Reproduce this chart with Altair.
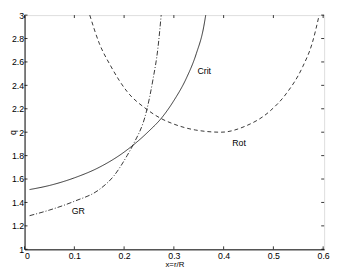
import altair as alt
import pandas as pd

# Curves
crit_x = [0.01, 0.05, 0.10, 0.15, 0.20, 0.25, 0.275, 0.30, 0.325, 0.345, 0.36, 0.364]
crit_q = [1.51, 1.545, 1.61, 1.70, 1.83, 2.01, 2.12, 2.27, 2.46, 2.67, 2.90, 3.0]

gr_x = [0.01, 0.05, 0.10, 0.15, 0.18, 0.206, 0.219, 0.245, 0.258, 0.268, 0.2745]
gr_q = [1.287, 1.335, 1.41, 1.51, 1.63, 1.80, 1.90, 2.18, 2.45, 2.72, 3.0]

rot_x = [0.131, 0.15, 0.173, 0.206, 0.245, 0.275, 0.297, 0.343, 0.395, 0.441, 0.493, 0.526, 0.559, 0.578, 0.592]
rot_q = [3.0, 2.76, 2.566, 2.347, 2.197, 2.115, 2.074, 2.019, 2.0, 2.047, 2.18, 2.33, 2.56, 2.76, 3.0]

label_text = ["Crit", "Rot", "GR"]
label_x = [0.361, 0.431, 0.108]
label_q = [2.52, 1.91, 1.33]

x_ticks = [0, 0.1, 0.2, 0.3, 0.4, 0.5, 0.6]
y_ticks = [1, 1.2, 1.4, 1.6, 1.8, 2, 2.2, 2.4, 2.6, 2.8, 3]

W, H = 307, 240
FONT = "Liberation Sans"

lines = pd.concat([
    pd.DataFrame({"x": crit_x, "q": crit_q, "s": "Crit"}),
    pd.DataFrame({"x": gr_x, "q": gr_q, "s": "GR"}),
    pd.DataFrame({"x": rot_x, "q": rot_q, "s": "Rot"}),
])
labels = pd.DataFrame({"t": label_text, "x": label_x, "q": label_q})
xt = pd.DataFrame({"v": x_ticks})
yt = pd.DataFrame({"v": y_ticks})

xscale = alt.Scale(domain=[0, 0.602], nice=False, zero=False)
yscale = alt.Scale(domain=[1, 3], nice=False, zero=False)

xaxis = alt.Axis(values=x_ticks, format="~g", title="x=r/R", grid=False, ticks=False,
                 labelFont=FONT, labelFontSize=9, labelColor="black", labelPadding=2,
                 titleFont=FONT, titleFontSize=8, titleFontWeight="normal", titleColor="black",
                 titleBaseline="alphabetic", titleY=18,
                 domainColor="#555555", domainWidth=1.5)
yaxis = alt.Axis(values=y_ticks, format="~g", title="q", grid=False, ticks=False,
                 labelFont=FONT, labelFontSize=9, labelColor="black", labelPadding=1,
                 titleFont=FONT, titleFontSize=9, titleFontWeight="normal", titleColor="black",
                 titleX=-7, titleY=H / 2,
                 domainColor="#555555", domainWidth=1.5)

line_layer = alt.Chart(lines).mark_line(color="black", strokeWidth=0.8, clip=True, interpolate="monotone").encode(
    x=alt.X("x:Q", scale=xscale, axis=xaxis),
    y=alt.Y("q:Q", scale=yscale, axis=yaxis),
    detail="s:N",
    strokeDash=alt.StrokeDash("s:N", scale=alt.Scale(domain=["Crit", "GR", "Rot"],
                                                     range=[[1, 0], [5, 2, 1, 2], [4, 3]]),
                              legend=None),
)

text_layer = alt.Chart(labels).mark_text(font=FONT, fontSize=9, color="black").encode(
    x=alt.X("x:Q", scale=xscale, axis=xaxis),
    y=alt.Y("q:Q", scale=yscale, axis=yaxis),
    text="t:N",
)

tick_style = dict(color="black", strokeWidth=0.8)
xb = alt.Chart(xt).mark_rule(**tick_style).encode(
    x=alt.X("v:Q", scale=xscale, axis=xaxis), y=alt.value(H), y2=alt.value(H - 3))
xtp = alt.Chart(xt).mark_rule(**tick_style).encode(
    x=alt.X("v:Q", scale=xscale, axis=xaxis), y=alt.value(0), y2=alt.value(3))
yl = alt.Chart(yt).mark_rule(**tick_style).encode(
    y=alt.Y("v:Q", scale=yscale, axis=yaxis), x=alt.value(0), x2=alt.value(3))
yr = alt.Chart(yt).mark_rule(**tick_style).encode(
    y=alt.Y("v:Q", scale=yscale, axis=yaxis), x=alt.value(W - 3), x2=alt.value(W))

chart = alt.layer(line_layer, text_layer, xb, xtp, yl, yr).properties(
    width=W, height=H,
    autosize=alt.AutoSizeParams(type="none"),
    padding={"left": 17, "top": 4, "right": 6, "bottom": 20},
).configure_view(stroke="black", strokeWidth=1).configure(background="white")

chart.save("out.html", embed_options={"renderer": "svg", "actions": False})
